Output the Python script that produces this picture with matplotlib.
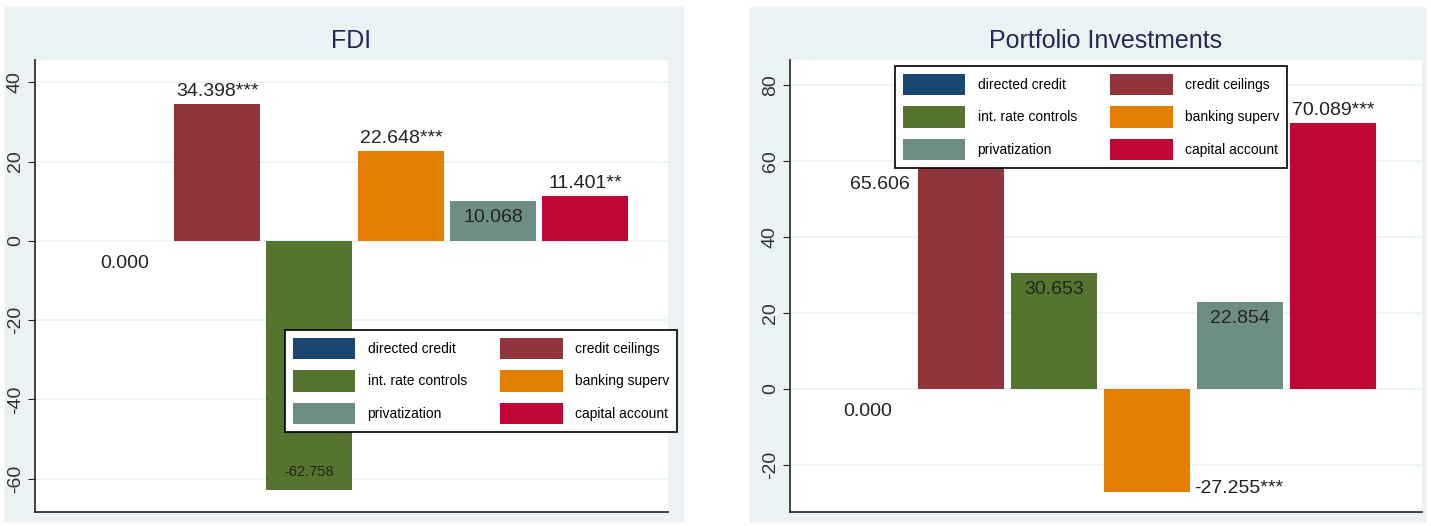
import numpy as np
import matplotlib.pyplot as plt
from matplotlib.patches import Rectangle

plt.rcParams['font.family'] = ['Liberation Sans', 'DejaVu Sans']

categories = ['directed credit', 'credit ceilings', 'int. rate controls',
              'banking superv', 'privatization', 'capital account']
colors = ['#1a476f', '#90353b', '#55752f', '#e37e00', '#6e8e84', '#c10534']

fdi = [0.000, 34.398, -62.758, 22.648, 10.068, 11.401]
fdi_text = ['0.000', '34.398***', '-62.758', '22.648***', '10.068', '11.401**']
fdi_where = ['below', 'above', 'inside_bottom', 'above', 'inside_top', 'above']

portfolio = [0.000, 65.606, 30.653, -27.255, 22.854, 70.089]
portfolio_text = ['0.000', '65.606', '30.653', '-27.255***', '22.854', '70.089***']
portfolio_where = ['below', 'left', 'inside_top', 'right', 'inside_top', 'above']

bg = '#eaf2f3'
W = 1431
H = 526

fig = plt.figure(figsize=(W / 100, H / 100), dpi=100)
# outer panel backgrounds (stata graph region)
for x0, x1 in [(5, 683), (750, 1425)]:
    fig.patches.append(Rectangle((x0 / W, 5 / H), (x1 - x0) / W, 514 / H,
                                 transform=fig.transFigure, color=bg, zorder=-10))


def draw_panel(ax, vals, texts, where, title, ylim, yticks, xlim):
    x = np.arange(len(vals))
    w = 0.93
    bars = ax.bar(x, vals, width=w, color=colors, label=categories, zorder=2)
    ax.set_xlim(*xlim)
    ax.set_ylim(*ylim)
    ax.set_yticks(yticks)
    ax.set_yticklabels([str(t) for t in yticks], rotation=90, va='center',
                       fontsize=14, color='#333333')
    ax.set_xticks([])
    ax.grid(axis='y', color=bg, lw=1.2, zorder=0)
    for s in ['top', 'right']:
        ax.spines[s].set_visible(False)
    for s in ['left', 'bottom']:
        ax.spines[s].set_color('#222222')
        ax.spines[s].set_linewidth(1.2)
    ax.tick_params(axis='y', length=5, color='#222222', pad=3)
    ax.set_title(title, fontsize=18, color='#1e2c53', pad=9)

    for xi, v, t, p in zip(x, vals, texts, where):
        kw = dict(textcoords='offset pixels', fontsize=14, color='#222222')
        if p == 'above':
            ax.annotate(t, (xi, v), xytext=(0, 4), ha='center', va='bottom', **kw)
        elif p == 'below':
            ax.annotate(t, (xi, v), xytext=(0, -14), ha='center', va='top', **kw)
        elif p == 'inside_top':
            ax.annotate(t, (xi, v), xytext=(0, -8), ha='center', va='top', **kw)
        elif p == 'inside_bottom':
            kw['fontsize'] = 10.5
            ax.annotate(t, (xi, v), xytext=(0, 11), ha='center', va='bottom', **kw)
        elif p == 'left':
            ax.annotate(t, (xi - w / 2, v), xytext=(-8, -45), ha='right', va='center', **kw)
        elif p == 'right':
            ax.annotate(t, (xi + w / 2, v), xytext=(4, 4), ha='left', va='center', **kw)
    return bars


ax1 = fig.add_axes([35 / W, 14 / H, 633 / W, 452 / H])
ax1.set_facecolor('white')
draw_panel(ax1, fdi, fdi_text, fdi_where, 'FDI', (-68.4, 45.6),
           [-60, -40, -20, 0, 20, 40], (-0.98, 5.9))

ax2 = fig.add_axes([790 / W, 14 / H, 632 / W, 452 / H])
ax2.set_facecolor('white')
draw_panel(ax2, portfolio, portfolio_text, portfolio_where, 'Portfolio Investments',
           (-32.4, 86.6), [-20, 0, 20, 40, 60, 80], (-0.84, 5.96))

# legends, order: row-wise pairs
order = [0, 2, 4, 1, 3, 5]
for ax, anchor in [(ax1, (285 / W, 1 - 330 / H)), (ax2, (895 / W, 1 - 66 / H))]:
    h, l = ax.get_legend_handles_labels()
    leg = ax.legend([h[i] for i in order], [l[i] for i in order], ncol=2,
                    loc='upper left', bbox_to_anchor=anchor,
                    bbox_transform=fig.transFigure, fontsize=10,
                    handlelength=4.5, handleheight=2.0, labelspacing=0.8,
                    columnspacing=2.4, handletextpad=0.9, borderpad=0.55,
                    borderaxespad=0, fancybox=False, framealpha=1,
                    edgecolor='black')
    leg.get_frame().set_linewidth(1.2)
    leg.set_zorder(5)

plt.savefig('out.png', dpi=100, facecolor='white')
